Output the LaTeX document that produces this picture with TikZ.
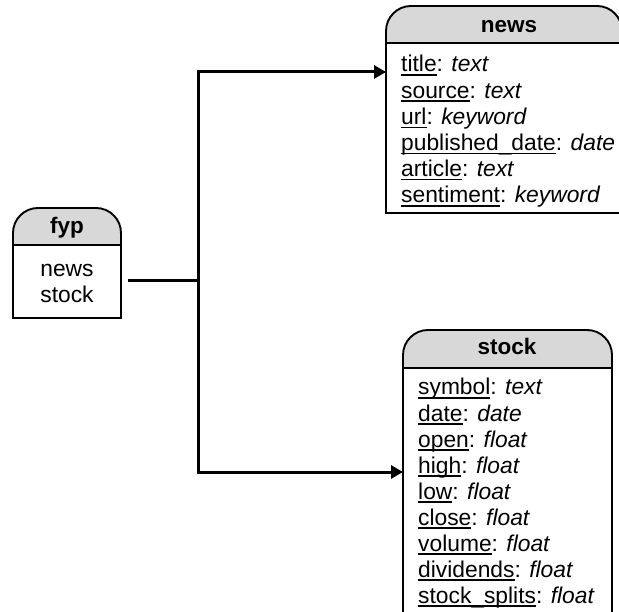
\documentclass[tikz,border=0pt]{standalone}
\usepackage{fontspec}
\setmainfont{Liberation Sans}
\usetikzlibrary{arrows.meta,fit}
\definecolor{hdrgray}{RGB}{216,216,216}

% underlined field name with a rule at a fixed depth
\newcommand{\fld}[1]{\setbox0\hbox{#1}\rlap{\rule[-3.6pt]{\wd0}{1.4pt}}\box0}

\tikzset{
  outline/.style={line width=1.9pt},
  conn/.style={line width=3pt},
  tip/.style={-{Triangle[length=12pt,width=13pt]}},
  hdrtxt/.style={font=\fontsize{22.5}{26}\selectfont\bfseries, inner sep=0pt, anchor=base},
  fieldtxt/.style={font=\fontsize{22.8}{26}\selectfont, inner sep=0pt, anchor=base west},
  celltxt/.style={font=\fontsize{22.8}{26}\selectfont, inner sep=0pt, anchor=base},
}

% table shape: name, left, right, top, header bottom, bottom (y measured downwards)
\newcommand{\tablepath}[4]{(#1,-#4) -- (#1,-#3-25) arc[start angle=180,end angle=90,radius=25]
    -- (#2-25,-#3) arc[start angle=90,end angle=0,radius=25] -- (#2,-#4) -- cycle}
\newcommand{\drawtable}[6]{%
  \node[fit={(#2,-#4) (#3,-#6)}, inner sep=0pt, outer sep=0pt] (#1) {};
  \fill[white] \tablepath{#2}{#3}{#4}{#6};
  \fill[hdrgray] \tablepath{#2}{#3}{#4}{#5};
  \draw[outline] \tablepath{#2}{#3}{#4}{#6};
  \draw[outline] (#2,-#5) -- (#3,-#5);
}

\begin{document}
\begin{tikzpicture}[x=1pt, y=1pt]
\useasboundingbox (0,0) rectangle (619,-612);

% tables
\drawtable{fyp}{13}{121}{208}{245}{318}
\drawtable{news}{386}{622}{6}{43}{213}
\drawtable{stock}{403}{612}{330}{368}{630}

% fyp
\node[hdrtxt] (fyp-h) at (67,-234) {fyp};
\node[celltxt] (fyp-1) at (67,-277) {news};
\node[celltxt] (fyp-2) at (67,-303) {stock};

% news
\node[hdrtxt] (news-h) at (509,-33) {news};
\foreach \f/\t [count=\i from 0] in {title/text, source/text, url/keyword,
    published\_date/date, article/text, sentiment/keyword}
  \node[fieldtxt] (news-\i) at (401,-72-26.2*\i) {\fld{\f}: \textit{\t}};

% stock
\node[hdrtxt] (stock-h) at (507,-355) {stock};
\foreach \f/\t [count=\i from 0] in {symbol/text, date/date, open/float,
    high/float, low/float, close/float, volume/float, dividends/float,
    stock\_splits/float}
  \node[fieldtxt] (stock-\i) at (418,-395-26*\i) {\fld{\f}: \textit{\t}};

% connectors
\coordinate (fypout) at (128,-281);
\coordinate (fork) at (198,-281);
\coordinate (newsin) at (news.west |- 0,-72);
\coordinate (stockin) at (stock.west |- 0,-472);
\draw[conn] (fypout) -- (fork);
\draw[conn, tip] (fork) |- (newsin);
\draw[conn, tip] (fork) |- (stockin);
\end{tikzpicture}
\end{document}
